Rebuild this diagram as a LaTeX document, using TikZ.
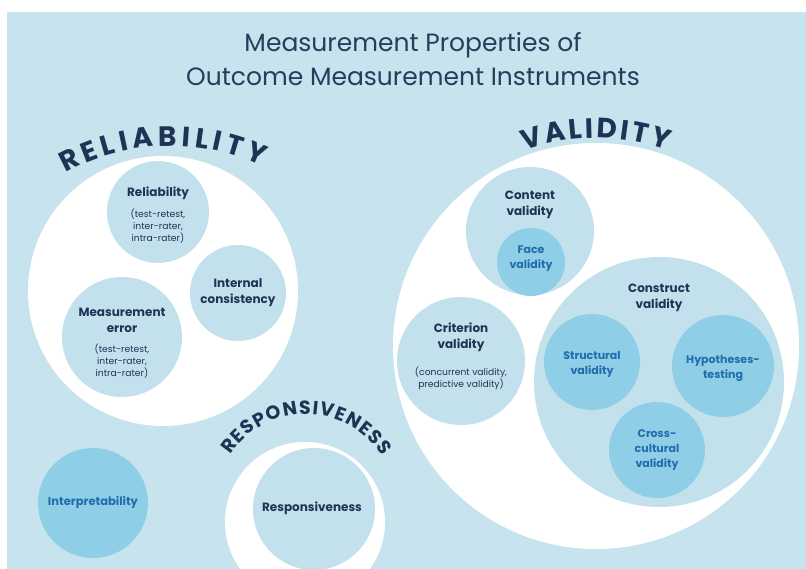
\documentclass[tikz,border=0pt]{standalone}
\usepackage{fontspec}
\setmainfont{Poppins}
\usetikzlibrary{decorations.text}
\definecolor{bg}{RGB}{198,227,238}
\definecolor{pale}{RGB}{195,225,237}
\definecolor{deep}{RGB}{142,206,230}
\definecolor{navy}{RGB}{31,52,84}
\definecolor{titlecol}{RGB}{40,60,92}
\definecolor{bluetxt}{RGB}{33,108,172}
\newcommand\bighead{\fontsize{28}{28}\selectfont\bfseries\color{navy}}
\newcommand\smallheadfont{\fontsize{19}{19}\selectfont\bfseries\color{navy}}
\begin{document}
\begin{tikzpicture}[x=1pt,y=1pt,
  disc/.style={circle, inner sep=0pt, minimum size=#1},
  whitedisc/.style={disc=#1, fill=white},
  paledisc/.style={disc=#1, fill=pale},
  deepdisc/.style={disc=#1, fill=deep},
  lab/.style={font=\fontsize{12}{16}\selectfont\bfseries, text=navy, align=center, inner sep=0pt},
  sub/.style={font=\fontsize{9.2}{12}\selectfont, text=navy, align=center, inner sep=0pt},
  bluelab/.style={font=\fontsize{11}{15}\selectfont\bfseries, text=bluetxt, align=center, inner sep=0pt},
  titlefont/.style={font=\fontsize{25}{30}\selectfont, text=titlecol, anchor=base, inner sep=0pt},
  head/.style={decorate, decoration={text along path, text={|\bighead|#1}, text align=fit to path}},
  smallhead/.style={decorate, decoration={text along path, text={|\smallheadfont|#1}, text align=fit to path}}
]
\useasboundingbox (0,0) rectangle (806,-569);
\clip (0,0) rectangle (806,-569);
\fill[white] (0,0) rectangle (806,-569);
\fill[bg] (7,-12) rectangle (806,-569);

% title
\node[titlefont] (t1) at (413,-52) {Measurement Properties of};
\node[titlefont] (t2) at (413,-86) {Outcome Measurement Instruments};

% big white discs
\node[whitedisc=270] (relw) at (163,-291) {};
\node[whitedisc=406] (valw) at (596,-346) {};
\node[whitedisc=160] (resw) at (305,-522) {};

% reliability group
\node[paledisc=102] (rel) at (158,-212) {};
\node[paledisc=96] (ic) at (238,-293) {};
\node[paledisc=120] (me) at (122,-337) {};
\node[lab] (relL) at (158,-193) {Reliability};
\node[sub] (relS) at (158,-226) {(test-retest,\\inter-rater,\\intra-rater)};
\node[lab] (icL) at (238,-293) {Internal\\consistency};
\node[lab] (meL) at (122,-320) {Measurement\\error};
\node[sub] (meS) at (122,-361) {(test-retest,\\inter-rater,\\intra-rater)};

% interpretability
\node[deepdisc=110] (int) at (93,-503) {};
\node[bluelab, font=\fontsize{11.5}{15}\selectfont\bfseries] (intL) at (93,-502) {Interpretability};

% responsiveness
\node[paledisc=122] (res) at (314,-509) {};
\node[lab] (resL) at (312,-508) {Responsiveness};

% validity group
\node[paledisc=128] (cont) at (530,-231) {};
\node[deepdisc=68] (face) at (531,-262) {};
\node[paledisc=128] (crit) at (461,-361) {};
\node[paledisc=250] (cons) at (659,-382) {};
\node[deepdisc=96] (str) at (592,-362) {};
\node[deepdisc=102] (hyp) at (723,-366) {};
\node[deepdisc=96] (cc) at (657,-450) {};

\node[lab] (contL) at (530,-205) {Content\\validity};
\node[bluelab] (faceL) at (531,-259) {Face\\validity};
\node[lab] (critL) at (461,-337) {Criterion\\validity};
\node[sub] (critS) at (461,-378) {(concurrent validity,\\predictive validity)};
\node[lab] (consL) at (659,-298) {Construct\\validity};
\node[bluelab] (strL) at (592,-364) {Structural\\validity};
\node[bluelab] (hypL) at (723,-368) {Hypotheses-\\testing};
\node[bluelab] (ccL) at (657,-450) {Cross-\\cultural\\validity};

% curved headings
\path[head=RELIABILITY] ([shift={(170,-362)}]119:216) arc[start angle=119, end angle=65, radius=216];
\path[head=VALIDITY] ([shift={(596,-346)}]110:208) arc[start angle=110, end angle=70, radius=208];
\path[smallhead=RESPONSIVENESS] ([shift={(306,-504)}]147:90) arc[start angle=147, end angle=32, radius=90];
\end{tikzpicture}
\end{document}
